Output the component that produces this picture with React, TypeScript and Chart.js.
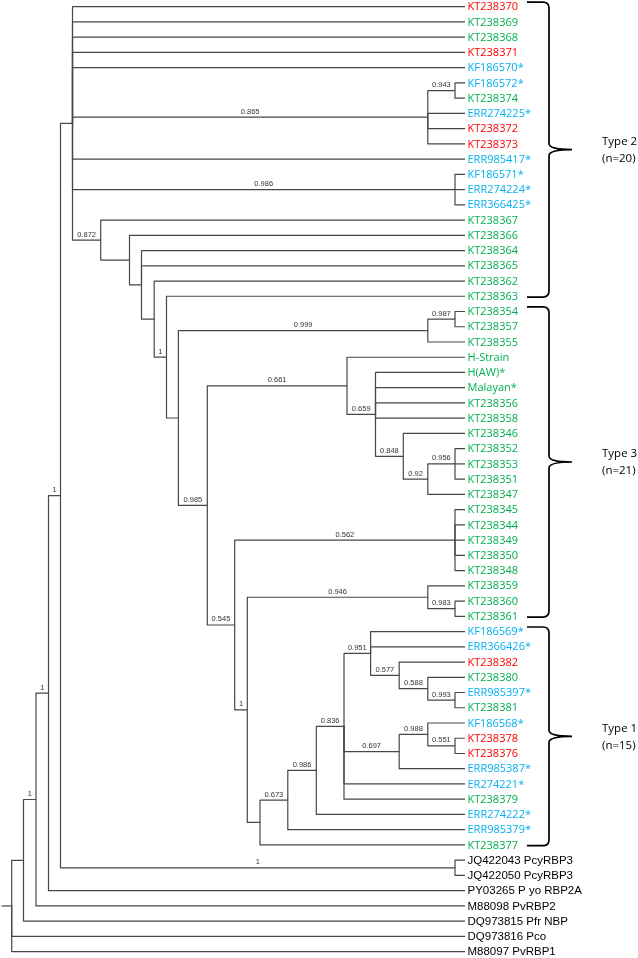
import React, { useEffect, useRef } from "react";
import { Chart, registerables } from "chart.js";

Chart.register(...registerables);

// ---------- DATA ----------
const leafNames = [
  "KT238370", "KT238369", "KT238368", "KT238371", "KF186570*", "KF186572*", "KT238374",
  "ERR274225*", "KT238372", "KT238373", "ERR985417*", "KF186571*", "ERR274224*", "ERR366425*",
  "KT238367", "KT238366", "KT238364", "KT238365", "KT238362", "KT238363",
  "KT238354", "KT238357", "KT238355", "H-Strain", "H(AW)*", "Malayan*", "KT238356", "KT238358",
  "KT238346", "KT238352", "KT238353", "KT238351", "KT238347", "KT238345", "KT238344", "KT238349",
  "KT238350", "KT238348", "KT238359", "KT238360", "KT238361",
  "KF186569*", "ERR366426*", "KT238382", "KT238380", "ERR985397*", "KT238381", "KF186568*",
  "KT238378", "KT238376", "ERR985387*", "ER274221*", "KT238379", "ERR274222*", "ERR985379*", "KT238377",
  "JQ422043 PcyRBP3", "JQ422050 PcyRBP3", "PY03265 P yo RBP2A", "M88098 PvRBP2",
  "DQ973815 Pfr NBP", "DQ973816 Pco", "M88097 PvRBP1",
];

const leafGroups = [
  "R", "G", "G", "R", "B", "B", "G",
  "B", "R", "R", "B", "B", "B", "B",
  "G", "G", "G", "G", "G", "G",
  "G", "G", "G", "G", "G", "G", "G", "G",
  "G", "G", "G", "G", "G", "G", "G", "G",
  "G", "G", "G", "G", "G",
  "B", "B", "R", "G", "B", "G", "B",
  "R", "R", "B", "B", "G", "B", "B", "G",
  "K", "K", "K", "K",
  "K", "K", "K",
];

const leafParents = [
  "F", "F", "F", "F", "F", "AJ", "AJ",
  "AH", "AH", "AH", "F", "AI", "AI", "AI",
  "G", "H", "I", "I", "J", "K",
  "AL", "AL", "AK", "N", "O", "O", "O", "O",
  "P", "R", "R", "R", "Q", "T", "T", "T",
  "T", "T", "U", "AM", "AM",
  "AA", "AA", "AC", "AD", "AE", "AE", "AF",
  "AG", "AG", "AB", "Z", "Z", "Y", "X", "W",
  "JQ", "JQ", "D", "C",
  "B", "root", "root",
];

const tipDepth = 465;
const rootStubDepth = 1.5;

const nodeNames = [
  "root", "B", "C", "D", "E", "F", "AH", "AJ", "AI", "G", "H", "I", "J", "K", "L",
  "AK", "AL", "M", "N", "O", "P", "Q", "R", "S", "T", "V", "U", "AM", "W", "X",
  "Y", "Z", "AA", "AC", "AD", "AE", "AB", "AF", "AG", "JQ",
];
const nodeParents = [
  null, "root", "B", "C", "D", "E", "F", "AH", "F", "F", "G", "H", "I", "J", "K",
  "L", "AK", "L", "M", "N", "O", "P", "Q", "M", "S", "S", "V", "U", "V", "W",
  "X", "Y", "Z", "AA", "AC", "AD", "Z", "AB", "AF", "E",
];
const nodeDepths = [
  11.7, 23.5, 36, 48.5, 60.5, 72.5, 427.8, 455, 455, 100.7, 129.5, 141.5, 154.2, 166.5, 178.4,
  427.8, 455, 207.3, 347, 375.5, 403.3, 427.8, 455, 234.7, 455, 247.3, 427.8, 455, 260, 287.8,
  316.3, 344, 370.6, 399.2, 427.8, 455, 399.2, 427.8, 455, 455,
];
const nodeSupports = [
  "", "", "1", "1", "1", "", "0.865", "0.943", "0.986", "0.872", "", "", "", "1", "",
  "0.999", "0.987", "0.985", "0.661", "0.659", "0.848", "0.92", "0.956", "0.545", "0.562", "1", "0.946", "0.983", "", "0.673",
  "0.986", "0.836", "0.951", "0.577", "0.588", "0.993", "0.697", "0.988", "0.551", "1",
];

const cladeTitles = ["Type 2", "Type 3", "Type 1"];
const cladeCounts = ["(n=20)", "(n=21)", "(n=15)"];
const cladeFirstLeaf = [0, 20, 41];
const cladeLastLeaf = [19, 40, 55];

// ---------- TREE LAYOUT (derived) ----------
const groupColors: Record<string, string> = {
  R: "#ff0000",
  G: "#00b050",
  B: "#00b0f0",
  K: "#000000",
};

function buildTree() {
  const xOf: Record<string, number> = {};
  const yOf: Record<string, number> = {};
  const kids: Record<string, string[]> = {};
  nodeNames.forEach((n, i) => {
    xOf[n] = nodeDepths[i];
    kids[n] = [];
  });
  leafNames.forEach((_, i) => {
    const id = "leaf" + i;
    xOf[id] = tipDepth;
    yOf[id] = i;
    kids[leafParents[i]].push(id);
  });
  nodeNames.forEach((n, i) => {
    const p = nodeParents[i];
    if (p) kids[p].push(n);
  });
  const calcY = (n: string): number => {
    if (yOf[n] !== undefined) return yOf[n];
    const ys = kids[n].map(calcY);
    yOf[n] = (Math.min(...ys) + Math.max(...ys)) / 2;
    return yOf[n];
  };
  calcY("root");
  const edges: { x: number; y: number }[][] = [];
  nodeNames.forEach((n) => {
    kids[n].forEach((c) => {
      edges.push([
        { x: xOf[n], y: yOf[n] },
        { x: xOf[n], y: yOf[c] },
        { x: xOf[c], y: yOf[c] },
      ]);
    });
  });
  edges.push([
    { x: rootStubDepth, y: yOf.root },
    { x: xOf.root, y: yOf.root },
  ]);
  return { xOf, yOf, edges };
}

const tree = buildTree();

const labelPlugin = {
  id: "treeLabels",
  afterDatasetsDraw(chart: any) {
    const { ctx } = chart;
    const xs = chart.scales.x;
    const ys = chart.scales.y;
    ctx.save();
    // leaf labels
    ctx.textAlign = "left";
    ctx.textBaseline = "middle";
    leafNames.forEach((name, i) => {
      const g = leafGroups[i];
      ctx.fillStyle = groupColors[g];
      ctx.font =
        g === "K"
          ? "11.5px 'Liberation Sans', Arial, sans-serif"
          : "11px 'Open Sans', sans-serif";
      ctx.fillText(name, xs.getPixelForValue(tipDepth) + 2.5, ys.getPixelForValue(i) + 0.5);
    });
    // support values
    ctx.font = "7.5px 'Liberation Sans', Arial, sans-serif";
    ctx.fillStyle = "#333333";
    ctx.textAlign = "center";
    ctx.textBaseline = "alphabetic";
    nodeNames.forEach((n, i) => {
      const s = nodeSupports[i];
      const p = nodeParents[i];
      if (!s || !p) return;
      const cx = (xs.getPixelForValue(tree.xOf[p]) + xs.getPixelForValue(tree.xOf[n])) / 2;
      const cy = ys.getPixelForValue(tree.yOf[n]) - 3.5;
      ctx.fillText(s, cx, cy);
    });
    // braces
    ctx.strokeStyle = "#000000";
    ctx.lineWidth = 1.7;
    const x0 = 527;
    const x1 = 549;
    const x2 = 572;
    cladeTitles.forEach((t, k) => {
      const top = ys.getPixelForValue(cladeFirstLeaf[k] - 0.3);
      const bot = ys.getPixelForValue(cladeLastLeaf[k] + 0.05);
      const mid = (top + bot) / 2;
      ctx.beginPath();
      ctx.moveTo(x0, top);
      ctx.lineTo(x1 - 6, top);
      ctx.quadraticCurveTo(x1, top, x1, top + 6);
      ctx.lineTo(x1, mid - 6);
      ctx.quadraticCurveTo(x1, mid, x2, mid);
      ctx.quadraticCurveTo(x1, mid, x1, mid + 6);
      ctx.lineTo(x1, bot - 6);
      ctx.quadraticCurveTo(x1, bot, x1 - 6, bot);
      ctx.lineTo(x0, bot);
      ctx.stroke();
      ctx.fillStyle = "#000000";
      ctx.font = "11.5px 'Open Sans', sans-serif";
      ctx.textAlign = "left";
      ctx.textBaseline = "middle";
      ctx.fillText(t, 602, mid - 8);
      ctx.fillText(cladeCounts[k], 602, mid + 9);
    });
    ctx.restore();
  },
};

export default function App() {
  const ref = useRef<HTMLCanvasElement | null>(null);
  useEffect(() => {
    document.body.style.margin = "0";
    const canvas = ref.current;
    if (!canvas) return;
    const chart = new Chart(canvas, {
      type: "scatter",
      data: {
        datasets: tree.edges.map((e) => ({
          data: e,
          showLine: true,
          borderColor: "#474747",
          borderWidth: 1.2,
          pointRadius: 0,
          pointHoverRadius: 0,
          tension: 0,
          borderJoinStyle: "round" as const,
          clip: false as any,
        })),
      },
      options: {
        animation: false,
        responsive: false,
        maintainAspectRatio: false,
        devicePixelRatio: 1,
        layout: { padding: 0 },
        events: [],
        plugins: {
          legend: { display: false },
          tooltip: { enabled: false },
        },
        scales: {
          x: { type: "linear", min: 0, max: 638, display: false },
          y: { type: "linear", min: -0.44, max: 62.42, reverse: true, display: false },
        },
      },
      plugins: [labelPlugin],
    });
    return () => chart.destroy();
  }, []);
  return (
    <canvas ref={ref} width={638} height={958} style={{ display: "block", width: 638, height: 958 }} />
  );
}
